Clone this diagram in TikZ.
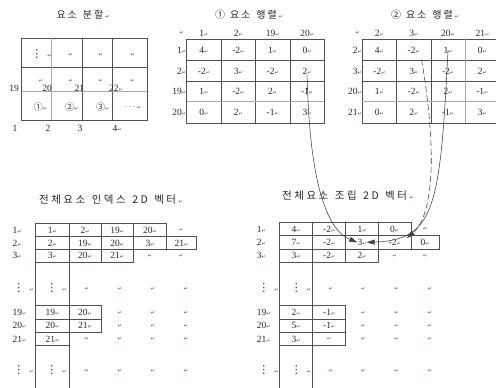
\documentclass[tikz,border=0pt]{standalone}
\usepackage{fontspec}
\setmainfont{Liberation Serif}
\newfontfamily\kr{Noto Sans CJK KR}
\newfontfamily\dvs{DejaVu Sans}
\usetikzlibrary{arrows.meta}
\definecolor{rtblue}{RGB}{40,60,230}
\definecolor{gridc}{RGB}{80,80,80}
\definecolor{grayl}{RGB}{170,170,170}
\newcommand\rt{{\dvs\fontsize{5}{5}\selectfont\textcolor{rtblue}{↵}}}
\newcommand\vdt{{\dvs\fontsize{11}{11}\selectfont ⋮}}
\makeatletter
\def\lsk{2pt}
\newcommand\ls[2]{\def\lsk{#1}\ls@i#2\relax}
\def\ls@i#1{\ifx#1\relax\else\ifx#1|\hspace{4pt}\else#1\kern\lsk\fi\expandafter\ls@i\fi}
\makeatother
\newcommand\boxrow[4]{%
  \foreach [count=\k] \xa/\xb/\t in {#4} {%
    \draw[grid] (\xa,#2) rectangle (\xb,#3);
    \node (#1-\k) at ({(\xa+\xb)/2},{(#2+#3)/2}) {\t\rt};
  }}
\begin{document}
\begin{tikzpicture}[x=1pt,y=-1pt,
  every node/.style={inner sep=0pt, text=black!85, font=\fontsize{9.5}{11}\selectfont},
  grid/.style={draw=gridc, line width=0.6pt},
  gline/.style={draw=grayl, line width=1.3pt},
  title/.style={font=\fontsize{10}{12}\selectfont\kr},
  btitle/.style={font=\fontsize{10.5}{12}\selectfont\kr},
  conn/.style={draw=black!75, line width=0.55pt, -{Triangle[length=8pt,width=5pt]}},
]
\useasboundingbox (0,0) rectangle (496,388);

% ---------- element division ----------
\node[title] (t0) at (83,15) {\ls{2pt}{요소|분할}\rt};
\draw[grid] (21.7,38.3) rectangle (147.3,120);
\draw[grid] (82.3,38.3) -- (82.3,120) (112.3,38.3) -- (112.3,120) (21.7,67.3) -- (147.3,67.3);
\draw[gline] (51.7,38.3) -- (51.7,120) (21.7,91.7) -- (147.3,91.7);
\node (edvd) at (41.5,54) {\vdt\hspace{5pt}\rt};
\foreach [count=\k] \x/\y in {71/55, 101/55, 133/55, 41/80.7, 71/80.7, 101/80.7, 132.7/80.7}
  \node (edr\k) at (\x,\y) {\rt};
\foreach [count=\k] \x/\t in {14/19, 47/20, 79.3/21, 116/22\rt}
  \node (edn\k) at (\x,88.3) {\t};
\foreach [count=\k] \x/\t in {40.5/①, 71.8/②, 102.8/③}
  \node (edc\k) at (\x,106.7) {{\kr\fontsize{9}{10}\selectfont \t}\rt};
\node (eddots) at (133,107) {$\cdots$\,\rt};
\foreach [count=\k] \x/\t in {15/1, 48/2, 80/3, 117/4\rt}
  \node (edb\k) at (\x,128) {\t};

% ---------- element matrix 1 ----------
\node[title] (t1) at (249,15) {①\hspace{5pt}\ls{2pt}{요소|행렬}\rt};
\node (m1h0) at (181.7,33) {\rt};
\foreach [count=\k] \t in {1,2,19,20}
  \node (m1h\k) at ({186.7+34.4*(\k-0.5)},33) {\t\rt};
\foreach [count=\r] \lab/\y/\vals in {1/50/{4,-2,1,0}, 2/71.2/{-2,3,-2,2}, 19/91.7/{1,-2,2,-1}, 20/112.5/{0,2,-1,3}} {
  \node[anchor=east] (m1l\r) at (186.3,\y) {\lab\rt};
  \foreach [count=\c] \v in \vals
    \node (m1-\r-\c) at ({186.7+34.4*(\c-0.5)},\y) {\v\rt};
}
\draw[grid] (186.7,39.3) rectangle (324.3,123.3);
\foreach \x in {221.1,255.5,289.9} \draw[grid] (\x,39.3) -- (\x,123.3);
\foreach \y in {60.7,81.7} \draw[grid] (186.7,\y) -- (324.3,\y);
\draw[gline] (186.7,101.7) -- (324.3,101.7);

% ---------- element matrix 2 ----------
\node[title] (t2) at (425,15) {②\hspace{5pt}\ls{2pt}{요소|행렬}\rt};
\node (m2h0) at (357.7,33) {\rt};
\foreach [count=\k] \t in {2,3,20,21}
  \node (m2h\k) at ({362.3+34.3*(\k-0.5)},33) {\t\rt};
\foreach [count=\r] \lab/\y/\vals in {2/50/{4,-2,1,0}, 3/71.2/{-2,3,-2,2}, 20/91.7/{1,-2,2,-1}, 21/112.5/{0,2,-1,3}} {
  \node[anchor=east] (m2l\r) at (361.9,\y) {\lab\rt};
  \foreach [count=\c] \v in \vals
    \node (m2-\r-\c) at ({362.3+34.3*(\c-0.5)},\y) {\v\rt};
}
\foreach \y in {39.3,60.7,81.7,123.3} \draw[grid] (362.3,\y) -- (496,\y);
\foreach \x in {362.3,396.6,430.9} \draw[grid] (\x,39.3) -- (\x,123.3);
\draw[gline] (362.3,101.7) -- (496,101.7);
\draw[gline] (465.2,39.3) -- (465.2,123.3);

% ---------- global index vector ----------
\node[btitle] (t3) at (111,200) {\ls{2.5pt}{전체요소|인덱스|2D|벡터}\rt};
\draw[grid] (35.7,223.3) -- (35.7,388) (69,223.3) -- (69,388);
\boxrow{L1}{223.3}{236.7}{35.7/69/1, 69/101/2, 101/133.3/19, 133.3/166.7/20}
\boxrow{L2}{236.7}{249.3}{35.7/69/2, 69/101/19, 101/133.3/20, 133.3/166.7/3, 166.7/196/21}
\boxrow{L3}{249.3}{262.3}{35.7/69/3, 69/101/20, 101/133.3/21}
\boxrow{L19}{305.7}{319.3}{35.7/69/19, 69/101/20}
\boxrow{L20}{319.3}{332.3}{35.7/69/20, 69/101/21}
\boxrow{L21}{332.3}{345.7}{35.7/69/21}
\foreach [count=\k] \t/\y in {1/230, 2/243, 3/255.8, 19/312.5, 20/325.8, 21/339}
  \node[anchor=west] (Ll\k) at (12.5,\y) {\t\rt};
\foreach [count=\k] \x/\y in {181.3/230, 150/255.8, 181.3/255.8,
    120/312.5, 153/312.5, 186/312.5, 120/325.8, 153/325.8, 186/325.8,
    87/339, 120/339, 153/339, 186/339,
    87/289, 120/289, 153/289, 186/289,
    87/371, 120/371, 153/371, 186/371}
  \node (Lr\k) at (\x,\y) {\rt};
\foreach [count=\k] \x/\y in {23.5/288, 56.5/288, 23.5/370, 56.5/370}
  \node (Ld\k) at (\x,\y) {\vdt\hspace{5pt}\rt};

% ---------- global assembled vector ----------
\node[btitle] (t4) at (348,196) {\ls{2.5pt}{전체요소|조립|2D|벡터}\rt};
\draw[grid] (279.3,222.7) -- (279.3,388) (312.7,222.7) -- (312.7,388);
\boxrow{R1}{222.7}{235.7}{279.3/312.7/4, 312.7/345.7/-2, 345.7/378.3/1, 378.3/411/0}
\boxrow{R2}{235.7}{249}{279.3/312.7/7, 312.7/345.7/-2, 345.7/378.3/3, 378.3/411/-2, 411/439.3/0}
\boxrow{R3}{249}{262.3}{279.3/312.7/3, 312.7/345.7/-2, 345.7/378.3/2}
\boxrow{R19}{305.7}{319.3}{279.3/312.7/2, 312.7/345.7/-1}
\boxrow{R20}{319.3}{332.3}{279.3/312.7/5, 312.7/345.7/-1}
\boxrow{R21}{332.3}{345.7}{279.3/312.7/3, 312.7/345.7/{}}
\foreach [count=\k] \t/\y in {1/229.2, 2/242.3, 3/255.7, 19/312.5, 20/325.8, 21/339}
  \node[anchor=west] (Rl\k) at (256.7,\y) {\t\rt};
\foreach [count=\k] \x/\y in {425.2/229.2, 394.6/255.7, 425.2/255.7,
    363.3/312.5, 396.7/312.5, 430/312.5, 363.3/325.8, 396.7/325.8, 430/325.8,
    363.3/339, 396.7/339, 430/339,
    331/289, 363.3/289, 396.7/289, 430/289,
    331/371, 363.3/371, 396.7/371, 430/371}
  \node (Rr\k) at (\x,\y) {\rt};
\foreach [count=\k] \x/\y in {268.5/288, 301/288, 268.5/370, 301/370}
  \node (Rd\k) at (\x,\y) {\vdt\hspace{5pt}\rt};

% ---------- connectors ----------
\draw[conn] (m1-2-4.south) .. controls (309,165) and (322,228) .. (R2-3.west);
\draw[conn] (m2-1-3.center) .. controls (440,205) and (436,240) .. (R2-3.east);
\draw[conn, dashed, dash pattern=on 6pt off 3pt] ([shift={(1.5,6)}]m2-1-2.south east) .. controls (437,150) and (434,215) .. ([shift={(6,-1)}]R2-4.north east);
\end{tikzpicture}
\end{document}
